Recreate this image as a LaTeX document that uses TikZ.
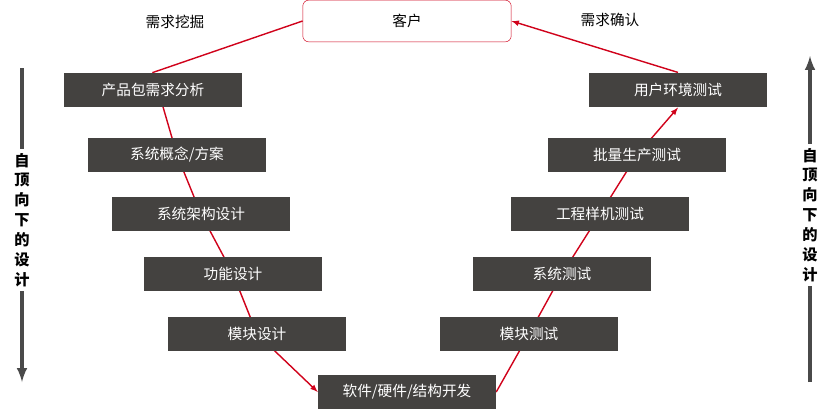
\documentclass[tikz,border=0pt]{standalone}
\usepackage{fontspec}
\setmainfont{Noto Sans CJK SC}
\usetikzlibrary{backgrounds}
\definecolor{boxgray}{HTML}{444240}
\definecolor{vred}{HTML}{D0021B}
\definecolor{sidegray}{HTML}{4A4A4A}
\begin{document}
\begin{tikzpicture}[x=0.03cm,y=-0.03cm]
\tikzset{stage/.style={fill=boxgray,text=white,minimum width=5.34cm,minimum height=1.04cm,inner sep=0pt,font=\fontsize{12.5}{14}\selectfont},
link/.style={vred,line width=1.2pt},
side/.style={sidegray,line width=3pt,-latex}}
\useasboundingbox (0,0) rectangle (836,418);
% customer on top
\node [draw=vred,rounded corners=5pt,minimum width=6.25cm,minimum height=1.25cm,inner sep=0pt,font=\fontsize{12.5}{14}\selectfont] (cust) at (407,21) {客户};
\node [font=\fontsize{12.5}{14}\selectfont] (dig) at (175,22) {需求挖掘};
\node [font=\fontsize{12.5}{14}\selectfont] (ack) at (610,20) {需求确认};
% left branch
\node [stage] (req) at (153,90) {产品包需求分析};
\node [stage] (conc) at (177,155) {系统概念/方案};
\node [stage] (arch) at (201,214) {系统架构设计};
\node [stage] (func) at (233,274) {功能设计};
\node [stage] (mod) at (257,334) {模块设计};
\node [stage] (dev) at (407,392) {软件/硬件/结构开发};
% right branch
\node [stage] (modt) at (529,334) {模块测试};
\node [stage] (syst) at (562,274) {系统测试};
\node [stage] (prot) at (600,214) {工程样机测试};
\node [stage] (mast) at (637,155) {批量生产测试};
\node [stage] (usrt) at (678,90) {用户环境测试};
\begin{pgfonlayer}{background}
\draw [link] (cust.west) -- (req.north) -- (conc.center) -- (arch.center) -- (func.center) -- (mod.center);
\draw [link,-latex] (mod.center) -- (dev.west);
\draw [link,-latex] (dev.east) -- (modt.center) -- (syst.center) -- (prot.center) -- (mast.center) -- (usrt.south);
\draw [link,-latex] (usrt.north) -- (cust.east);
\end{pgfonlayer}
% side arrows
\node [font=\bfseries\fontsize{13}{17}\selectfont,align=center] (ltxt) at (22,220) {自\\顶\\向\\下\\的\\设\\计};
\node [font=\bfseries\fontsize{13}{17}\selectfont,align=center] (rtxt) at (810,215) {自\\顶\\向\\下\\的\\设\\计};
\coordinate (ltop) at (22,68);
\coordinate (lbot) at (22,382);
\coordinate (rtop) at (810,56);
\coordinate (rbot) at (810,382);
\draw [side,-] (ltop) -- (ltxt.north);
\draw [side] (ltxt.south) -- (lbot);
\draw [side] (rtxt.north) -- (rtop);
\draw [side,-] (rbot) -- (rtxt.south);
\end{tikzpicture}
\end{document}
